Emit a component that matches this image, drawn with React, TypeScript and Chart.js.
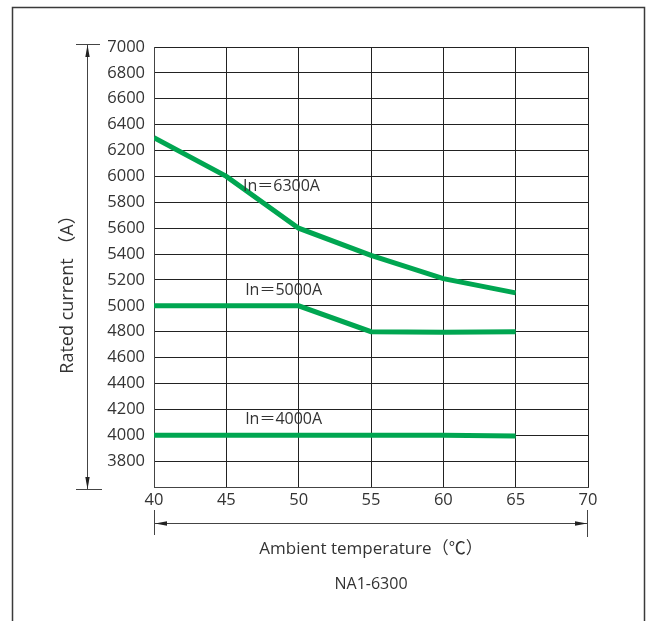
import React, { useEffect, useRef } from "react";
import { Chart, registerables } from "chart.js";

Chart.register(...registerables);

// ---- data ----
const temperatures = [40, 45, 50, 55, 60, 65];
const in6300 = [6300, 6000, 5600, 5390, 5210, 5100];
const in5000 = [5000, 5000, 5000, 4800, 4795, 4800];
const in4000 = [4000, 4000, 4000, 4000, 4000, 3995];
const seriesNames = ["In＝6300A", "In＝5000A", "In＝4000A"];
const labelX = [46.15, 46.3, 46.3];
const labelY = [5920, 5120, 4125];
const xMin = 40;
const xMax = 70;
const xStep = 5;
const yMin = 3600;
const yMax = 7000;
const yStep = 200;
const yTitle = "Rated current （A）";
const xTitle = "Ambient temperature（℃）";
const caption = "NA1-6300";

const FONT = "'Open Sans', 'Noto Sans CJK SC', sans-serif";
const TEXT = "#333333";
const GREEN = "#00a651";

function arrowHead(ctx: CanvasRenderingContext2D, tx: number, ty: number, dx: number, dy: number) {
  const len = 12;
  const half = 2.2;
  const bx = tx - dx * len;
  const by = ty - dy * len;
  const px = -dy;
  const py = dx;
  ctx.beginPath();
  ctx.moveTo(tx, ty);
  ctx.lineTo(bx + px * half, by + py * half);
  ctx.lineTo(bx - px * half, by - py * half);
  ctx.closePath();
  ctx.fill();
}

const decorPlugin = {
  id: "decor",
  afterDraw(chart: any) {
    const ctx: CanvasRenderingContext2D = chart.ctx;
    const { left, right, top, bottom } = chart.chartArea;
    const xs = chart.scales.x;
    const ys = chart.scales.y;
    ctx.save();
    // outer frame
    ctx.strokeStyle = "#3a3a3a";
    ctx.lineWidth = 1.5;
    ctx.strokeRect(12.5, 7.5, 632, 700);

    // y-axis dimension arrow
    ctx.strokeStyle = "#444";
    ctx.fillStyle = "#222";
    ctx.lineWidth = 1;
    const ax = 87.5;
    ctx.beginPath();
    ctx.moveTo(ax, top - 3);
    ctx.lineTo(ax, bottom + 2);
    ctx.moveTo(76, top - 2.5);
    ctx.lineTo(100, top - 2.5);
    ctx.moveTo(76, bottom + 2.5);
    ctx.lineTo(102, bottom + 2.5);
    ctx.stroke();
    arrowHead(ctx, ax, top - 2, 0, -1);
    arrowHead(ctx, ax, bottom + 2, 0, 1);

    // x-axis dimension arrow
    const ay = 523.5;
    ctx.beginPath();
    ctx.moveTo(left, ay);
    ctx.lineTo(right, ay);
    ctx.moveTo(left + 0.5, 510);
    ctx.lineTo(left + 0.5, 535);
    ctx.moveTo(right - 0.5, 510);
    ctx.lineTo(right - 0.5, 537);
    ctx.stroke();
    arrowHead(ctx, left + 1, ay, -1, 0);
    arrowHead(ctx, right - 1, ay, 1, 0);

    // titles
    ctx.fillStyle = TEXT;
    ctx.textAlign = "center";
    ctx.textBaseline = "middle";
    ctx.font = `17px ${FONT}`;
    ctx.fillText(xTitle, (left + right) / 2, 549);
    ctx.font = `16px ${FONT}`;
    ctx.fillText(caption, (left + right) / 2, 584);
    ctx.save();
    ctx.font = `18px ${FONT}`;
    ctx.translate(68, 290);
    ctx.rotate(-Math.PI / 2);
    ctx.fillText(yTitle, 0, 0);
    ctx.restore();

    // series labels
    ctx.font = `16px ${FONT}`;
    ctx.textAlign = "left";
    for (let i = 0; i < seriesNames.length; i++) {
      ctx.fillText(seriesNames[i], xs.getPixelForValue(labelX[i]), ys.getPixelForValue(labelY[i]));
    }
    ctx.restore();
  },
};

const mkData = (vals: number[]) => temperatures.map((t, i) => ({ x: t, y: vals[i] }));

export default function App() {
  const ref = useRef<HTMLCanvasElement | null>(null);
  useEffect(() => {
    if (!ref.current) return;
    const ds = (label: string, vals: number[]) => ({
      label,
      data: mkData(vals),
      borderColor: GREEN,
      backgroundColor: GREEN,
      borderWidth: 5,
      pointRadius: 0,
      tension: 0,
      fill: false,
    });
    const chart = new Chart(ref.current, {
      type: "line",
      data: {
        datasets: [ds(seriesNames[0], in6300), ds(seriesNames[1], in5000), ds(seriesNames[2], in4000)],
      },
      options: {
        responsive: false,
        animation: false,
        layout: { padding: { left: 0, top: 47, right: 62, bottom: 0 } },
        plugins: { legend: { display: false }, tooltip: { enabled: false } },
        scales: {
          x: {
            type: "linear",
            min: xMin,
            max: xMax,
            ticks: { stepSize: xStep, color: TEXT, font: { family: FONT, size: 16.5 }, padding: 3, maxRotation: 0 },
            grid: { color: "#222", lineWidth: 1, drawTicks: false },
            border: { color: "#444", width: 1 },
            afterFit(scale: any) {
              scale.height = 134;
            },
          },
          y: {
            type: "linear",
            min: yMin,
            max: yMax,
            ticks: {
              stepSize: yStep,
              autoSkip: false,
              color: TEXT,
              font: { family: FONT, size: 16.5 },
              padding: 9,
              callback: (v: any) => (v === yMin ? "" : String(v)),
            },
            grid: { color: "#222", lineWidth: 1, drawTicks: false },
            border: { color: "#444", width: 1 },
            afterFit(scale: any) {
              scale.width = 154;
            },
          },
        },
      },
      plugins: [decorPlugin],
    } as any);
    return () => chart.destroy();
  }, []);
  return (
    <div style={{ position: "fixed", left: 0, top: 0, width: 650, height: 621, background: "#fff" }}>
      <canvas ref={ref} width={650} height={621} style={{ display: "block" }} />
    </div>
  );
}
